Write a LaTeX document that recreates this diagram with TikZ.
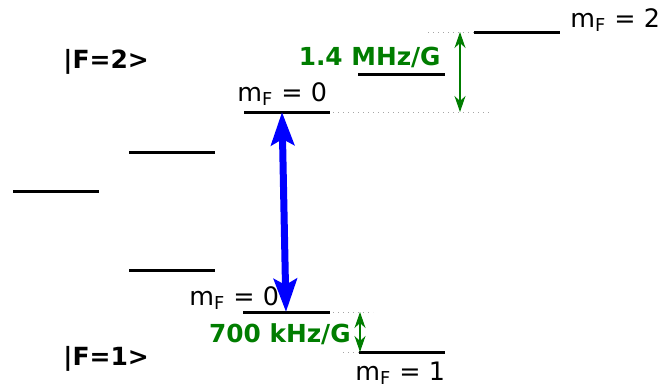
\documentclass[tikz,border=0pt]{standalone}
\usepackage{fontspec}
\setmainfont{DejaVu Sans}
\usetikzlibrary{arrows.meta, positioning}
\definecolor{zgreen}{RGB}{0,125,0}

\begin{document}
\begin{tikzpicture}[x=0.5pt, y=-0.5pt,
    lvl/.style={line width=1.5pt, line cap=rect},
    guide/.style={gray!70, dotted, line width=0.5pt},
    lbl/.style={inner sep=0pt, anchor=base west, font=\fontsize{12.7}{14}\selectfont},
    hf/.style={lbl, font=\fontsize{12.5}{14}\selectfont\bfseries},
    zeeman/.style={lbl, anchor=base east, text=zgreen,
                   font=\fontsize{12.4}{14}\selectfont\bfseries},
    split/.style={zgreen, line width=0.6pt,
                  {Stealth[length=8pt, width=5.5pt, inset=2.5pt]}-{Stealth[length=8pt, width=5.5pt, inset=2.5pt]}},
    pump/.style={blue, line width=3.5pt,
                 {Stealth[length=16.5pt, width=11.5pt, inset=3pt]}-{Stealth[length=16.5pt, width=11.5pt, inset=3pt]}}
  ]
    \useasboundingbox (0,0) rectangle (664,387);

    % unperturbed level and fine levels
    \coordinate (g0w) at (14,191);   \coordinate (g0e) at (97,191);
    \coordinate (f2w) at (130,152);  \coordinate (f2e) at (213,152);
    \coordinate (f1w) at (130,270);  \coordinate (f1e) at (213,270);

    % F=2 Zeeman levels
    \coordinate (u0w) at (245,112);  \coordinate (u0e) at (328,112);
    \coordinate (u1w) at (359,74);   \coordinate (u1e) at (443,74);
    \coordinate (u2w) at (475,32);   \coordinate (u2e) at (558,32);

    % F=1 Zeeman levels
    \coordinate (l0w) at (244,312);  \coordinate (l0e) at (328,312);
    \coordinate (l1w) at (360,352);  \coordinate (l1e) at (443,352);

    % guide lines
    \coordinate (u2g) at (428,32);
    \coordinate (u0g) at (490,112);
    \coordinate (l0g) at (373,312);
    \coordinate (l1g) at (343,352);
    \draw[guide] (u2g) -- (u2w);
    \draw[guide] (u0e) -- (u0g);
    \draw[guide] (l0e) -- (l0g);
    \draw[guide] (l1g) -- (l1w);

    \foreach \a/\b in {g0w/g0e, f2w/f2e, f1w/f1e, u0w/u0e, u1w/u1e,
                       u2w/u2e, l0w/l0e, l1w/l1e}
      \draw[lvl] (\a) -- (\b);

    % labels
    \node[hf] (hfup) at (63,68)  {|F=2>};
    \node[hf] (hflo) at (63,365) {|F=1>};
    \node[lbl] (mu0) at (237,101) {m\textsubscript{F} = 0};
    \node[lbl] (mu2) at (570,27)  {m\textsubscript{F} = 2};
    \node[lbl] (ml0) at (189,305) {m\textsubscript{F} = 0};
    \node[lbl] (ml1) at (355,380) {m\textsubscript{F} = 1};

    % Zeeman shifts
    \coordinate (sut) at (460,32);  \coordinate (sub) at (460,112);
    \coordinate (slt) at (360,312); \coordinate (slb) at (360,352);
    \draw[split] (sut) -- (sub);
    \draw[split] (slt) -- (slb);
    \node[zeeman] (gup) at (441,65)  {1.4 MHz/G};
    \node[zeeman] (glo) at (351,342) {700 kHz/G};

    % clock transition
    \coordinate (pt) at (282,112);
    \coordinate (pb) at (286,312);
    \draw[pump] (pb) -- (pt);
\end{tikzpicture}
\end{document}
